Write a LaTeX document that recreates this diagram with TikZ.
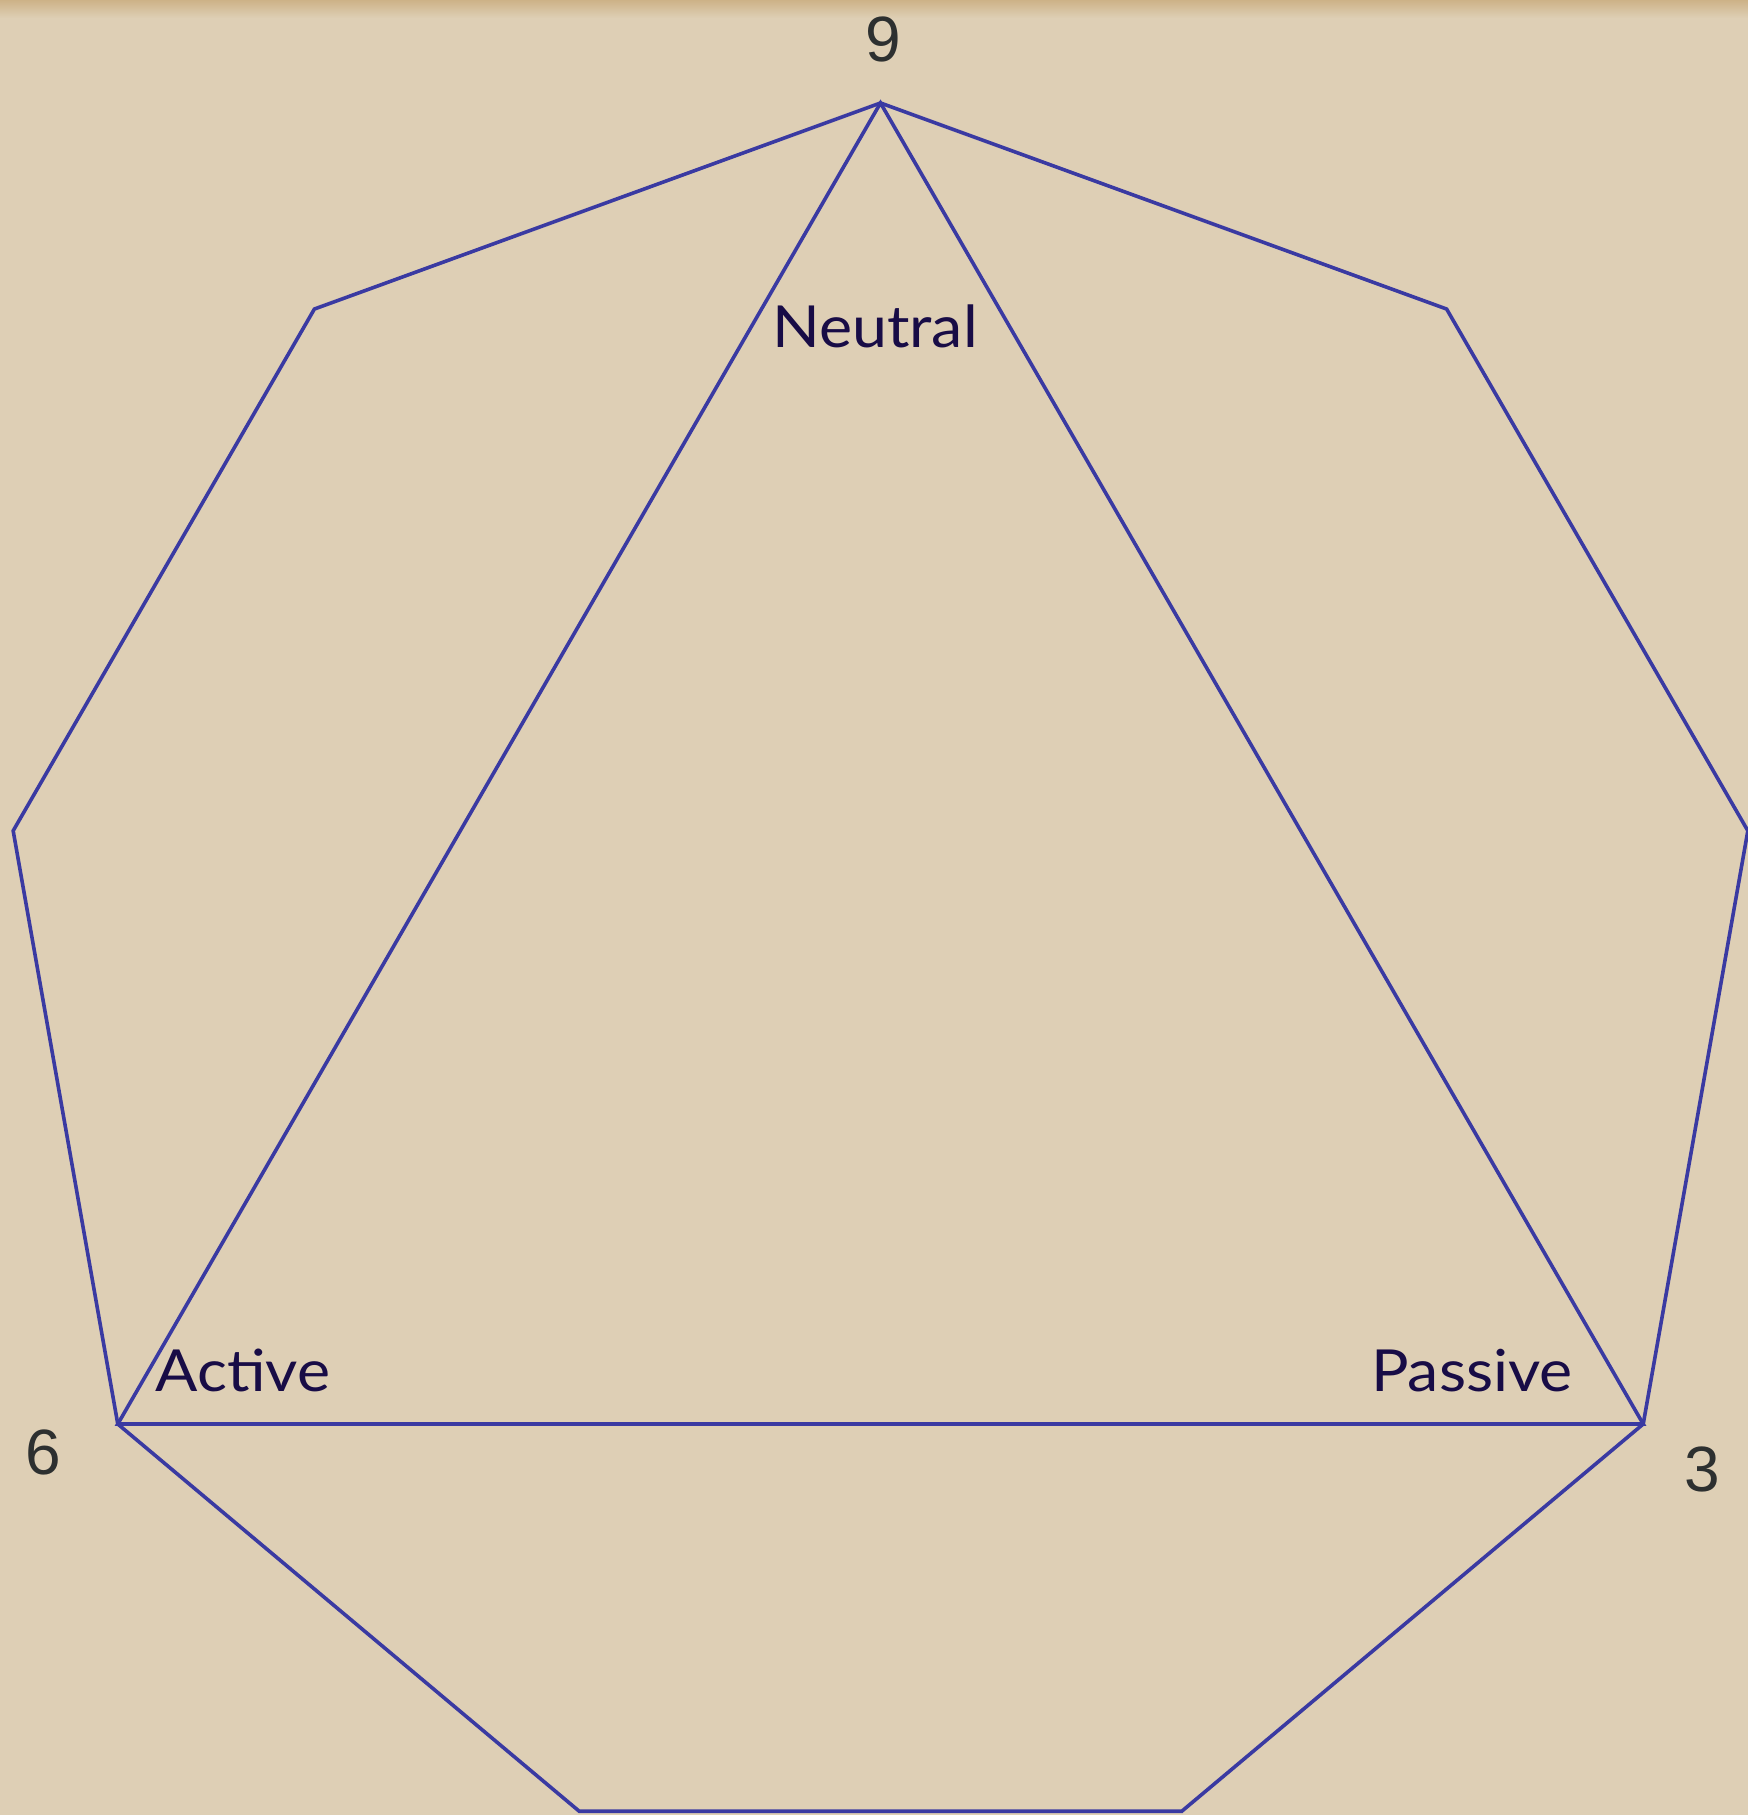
\documentclass[tikz,border=0pt]{standalone}
\usepackage{fontspec}
\setmainfont{Liberation Sans}
\newfontfamily\labfont[FakeStretch=1.08]{Lato}
\usetikzlibrary{calc}
\definecolor{paper}{RGB}{222,207,181}
\definecolor{paperedge}{RGB}{205,178,135}
\definecolor{edgeblue}{RGB}{58,58,162}
\definecolor{labink}{RGB}{24,12,70}
\definecolor{numink}{RGB}{45,48,48}
\tikzset{
  edge/.style={draw=edgeblue, line width=3.6pt, line join=miter},
  lab/.style={inner sep=0pt, anchor=base, text=labink, font=\labfont\fontsize{58}{62}\selectfont},
  num/.style={inner sep=0pt, anchor=base, text=numink, font=\fontsize{64}{70}\selectfont},
}
\begin{document}
\begin{tikzpicture}[x=1pt,y=1pt]
  \fill[paper] (0,0) rectangle (1748,1815);
  \shade[top color=paperedge, bottom color=paper] (0,1797) rectangle (1748,1815);
  \useasboundingbox (0,0) rectangle (1748,1815);
  \coordinate (c) at (880.5,831.3);
  \foreach \i in {0,...,8}{
    \coordinate (v\i) at ($(c)+({90+40*\i}:880.7)$);
  }
  \draw[edge] (v0) -- (v1) -- (v2) -- (v3) -- (v4) -- (v5) -- (v6) -- (v7) -- (v8) -- cycle;
  \draw[edge] (v0) -- (v3) -- (v6) -- cycle;
  \node[num] (n9) at (883,1753) {9};
  \node[num] (n6) at (43,340) {6};
  \node[num] (n3) at (1702,323) {3};
  \node[lab] (neutral) at (875,1467) {Neutral};
  \node[lab] (active) at (243,423) {Active};
  \node[lab] (passive) at (1472,423) {Passive};
\end{tikzpicture}
\end{document}
